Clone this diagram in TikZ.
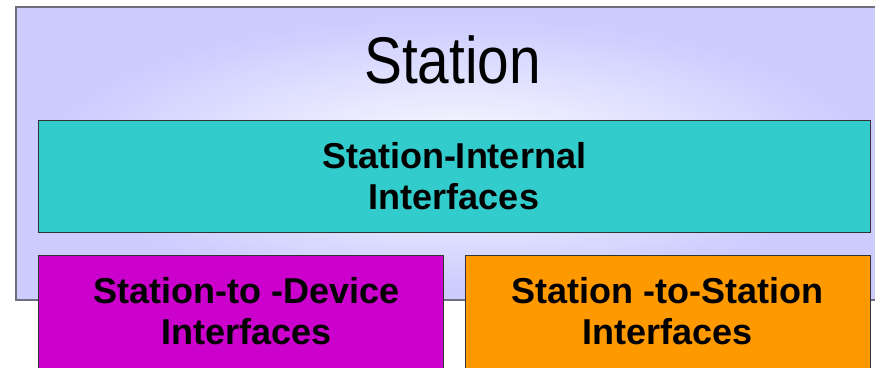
\documentclass[tikz,border=0pt]{standalone}
\usepackage{fontspec}
\setmainfont{Liberation Sans}
\definecolor{lavedge}{HTML}{CCCCFF}
\definecolor{glowcore}{HTML}{F0F0FF}
\definecolor{framegray}{HTML}{6E6E7E}
\definecolor{tealfill}{HTML}{33CCCC}
\definecolor{magentafill}{HTML}{CC00CC}
\definecolor{orangefill}{HTML}{FF9900}
\pgfdeclareradialshading{stationglow}{\pgfpoint{0bp}{0bp}}{%
  color(0bp)=(glowcore); color(6bp)=(glowcore); color(23bp)=(lavedge); color(50bp)=(lavedge)}
\tikzset{
  layerbox/.style={draw=black!80, line width=0.9pt, inner sep=0pt,
    align=center, font=\fontsize{36}{41}\selectfont\bfseries},
}
\begin{document}
\begin{tikzpicture}[x=1pt, y=-1pt]
  \useasboundingbox (0,0) rectangle (875,367);
  \clip (0,0) rectangle (875,367);
  % enclosing station frame with soft glow
  \node[draw=framegray, line width=1.5pt, shading=stationglow, inner sep=0pt,
        minimum width=879pt, minimum height=293pt] (station) at (455.5,153.5) {};
  \node[anchor=base, font=\fontsize{66}{70}\selectfont] (title) at (452.5,83)
        {\scalebox{0.86}[1]{Station}};
  % interface layers
  \node[layerbox, fill=tealfill, minimum width=832pt, minimum height=112pt]
        (internal) at (454,176) {Station-Internal\\Interfaces};
  \node[layerbox, fill=magentafill, minimum width=405pt, minimum height=113pt]
        (device) at (240.5,311.5) {\hspace*{12pt}Station-to -Device\\\hspace*{12pt}Interfaces};
  \node[layerbox, fill=orangefill, minimum width=405pt, minimum height=113pt]
        (peer) at (667.5,311.5) {Station -to-Station\\Interfaces};
\end{tikzpicture}
\end{document}
